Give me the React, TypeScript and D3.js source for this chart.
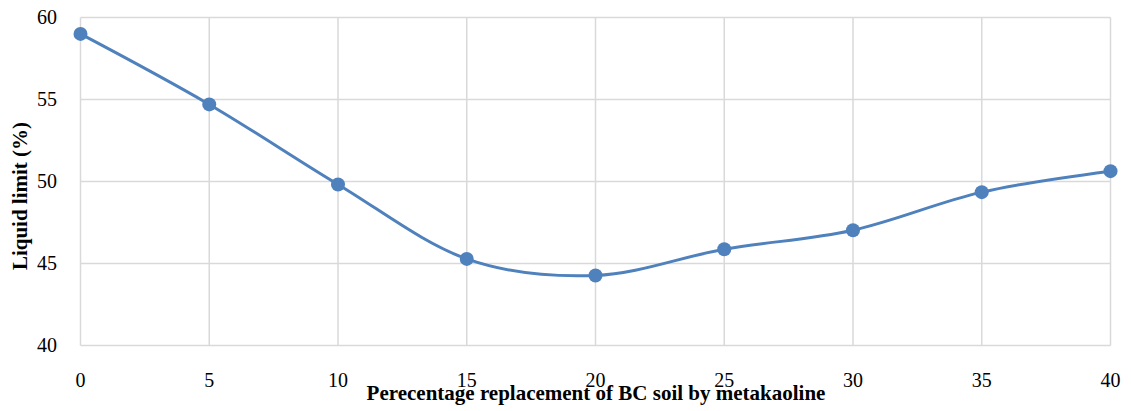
import React from "react";
import * as d3 from "d3";

const categories = [0, 5, 10, 15, 20, 25, 30, 35, 40];
const liquidLimit = [59.0, 54.7, 49.82, 45.28, 44.27, 45.87, 47.03, 49.35, 50.63];
const yTicks = [40, 45, 50, 55, 60];
const xTitle = "Perecentage replacement of BC soil by metakaoline";
const yTitle = "Liquid limit (%)";

export default function App() {
  const W = 1131, H = 411;
  const left = 80.5, right = 1110.5, top = 17.5, bottom = 345.5;
  const x = d3.scaleLinear().domain([0, 40]).range([left, right]);
  const y = d3.scaleLinear().domain([40, 60]).range([bottom, top]);
  const line = d3
    .line<number>()
    .x((_, i) => x(categories[i]))
    .y((d) => y(d))
    .curve(d3.curveCardinal.tension(0));
  const font = "'Liberation Serif', 'Times New Roman', 'DejaVu Serif', serif";
  return (
    <svg width={W} height={H} style={{ position: "absolute", left: 0, top: 0, background: "#fff" }}>
      <rect x={0} y={0} width={W} height={H} fill="#fff" />
      {yTicks.map((t) => (
        <line key={"h" + t} x1={left} x2={right} y1={y(t)} y2={y(t)} stroke="#d9d9d9" strokeWidth={1.5} />
      ))}
      {categories.map((c) => (
        <line key={"v" + c} x1={x(c)} x2={x(c)} y1={top} y2={bottom} stroke="#d9d9d9" strokeWidth={1.5} />
      ))}
      {yTicks.map((t) => (
        <text key={"yt" + t} x={57} y={y(t) + 6.5} textAnchor="end" fontFamily={font} fontSize={20} fill="#000">
          {t}
        </text>
      ))}
      {categories.map((c) => (
        <text key={"xt" + c} x={x(c)} y={387} textAnchor="middle" fontFamily={font} fontSize={20} fill="#000">
          {c}
        </text>
      ))}
      <path d={line(liquidLimit) || ""} fill="none" stroke="#4f81bd" strokeWidth={3} />
      {liquidLimit.map((v, i) => (
        <circle key={"p" + i} cx={x(categories[i])} cy={y(v)} r={7} fill="#4f81bd" />
      ))}
      <text x={596} y={400} textAnchor="middle" fontFamily={font} fontSize={21} fontWeight="bold" fill="#000">
        {xTitle}
      </text>
      <text
        transform={`translate(27, 196) rotate(-90)`}
        textAnchor="middle"
        fontFamily={font}
        fontSize={21}
        fontWeight="bold"
        fill="#000"
      >
        {yTitle}
      </text>
    </svg>
  );
}
